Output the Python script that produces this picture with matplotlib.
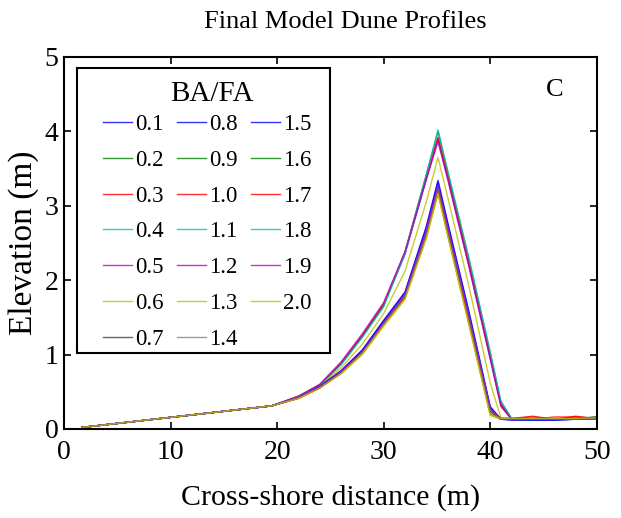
import matplotlib
matplotlib.use('Agg')
import matplotlib.pyplot as plt
from matplotlib.patches import Rectangle

plt.rcParams['font.family'] = ['Liberation Serif', 'DejaVu Serif']

# cross-shore stations (m)
xs = [1.7, 19.5, 22, 24, 26, 28, 30, 32, 34, 35.1, 36, 38, 40, 41, 42, 44, 46, 48, 50]

ratios = ['0.1', '0.2', '0.3', '0.4', '0.5', '0.6', '0.7',
          '0.8', '0.9', '1.0', '1.1', '1.2', '1.3', '1.4',
          '1.5', '1.6', '1.7', '1.8', '1.9', '2.0']

# final elevation (m) at each station, one row per BA/FA ratio
z_rows = [
    [0.02, 0.31, 0.43, 0.59, 0.88, 1.25, 1.66, 2.35, 3.35, 3.90, 3.38, 2.20, 0.95, 0.32, 0.13, 0.12, 0.12, 0.13, 0.14],
    [0.02, 0.31, 0.43, 0.58, 0.87, 1.24, 1.66, 2.38, 3.42, 4.00, 3.46, 2.28, 1.02, 0.36, 0.14, 0.13, 0.13, 0.14, 0.16],
    [0.02, 0.31, 0.44, 0.59, 0.88, 1.26, 1.68, 2.37, 3.38, 3.92, 3.42, 2.24, 0.98, 0.33, 0.14, 0.13, 0.16, 0.16, 0.14],
    [0.02, 0.31, 0.43, 0.58, 0.86, 1.23, 1.64, 2.36, 3.41, 4.02, 3.48, 2.30, 1.04, 0.38, 0.14, 0.13, 0.13, 0.13, 0.14],
    [0.02, 0.31, 0.44, 0.60, 0.90, 1.28, 1.70, 2.38, 3.36, 3.86, 3.36, 2.18, 0.94, 0.30, 0.13, 0.13, 0.13, 0.13, 0.14],
    [0.02, 0.31, 0.42, 0.57, 0.82, 1.14, 1.55, 2.12, 3.05, 3.65, 3.12, 1.92, 0.62, 0.15, 0.14, 0.14, 0.14, 0.14, 0.14],
    [0.02, 0.31, 0.42, 0.56, 0.77, 1.04, 1.43, 1.78, 2.62, 3.22, 2.68, 1.48, 0.24, 0.13, 0.13, 0.13, 0.13, 0.13, 0.14],
    [0.02, 0.31, 0.42, 0.57, 0.78, 1.06, 1.46, 1.84, 2.72, 3.34, 2.78, 1.58, 0.30, 0.13, 0.12, 0.12, 0.12, 0.13, 0.14],
    [0.02, 0.31, 0.42, 0.56, 0.76, 1.02, 1.40, 1.76, 2.58, 3.18, 2.62, 1.42, 0.20, 0.13, 0.13, 0.13, 0.13, 0.13, 0.16],
    [0.02, 0.31, 0.41, 0.55, 0.75, 1.02, 1.41, 1.79, 2.64, 3.24, 2.70, 1.50, 0.26, 0.14, 0.14, 0.16, 0.13, 0.16, 0.14],
    [0.02, 0.31, 0.42, 0.56, 0.76, 1.03, 1.42, 1.80, 2.65, 3.26, 2.72, 1.52, 0.27, 0.13, 0.13, 0.13, 0.13, 0.13, 0.14],
    [0.02, 0.31, 0.42, 0.56, 0.77, 1.04, 1.43, 1.81, 2.66, 3.27, 2.72, 1.52, 0.27, 0.13, 0.13, 0.13, 0.13, 0.13, 0.14],
    [0.02, 0.31, 0.41, 0.55, 0.74, 1.00, 1.38, 1.74, 2.56, 3.16, 2.60, 1.40, 0.18, 0.13, 0.14, 0.14, 0.14, 0.14, 0.14],
    [0.02, 0.31, 0.42, 0.56, 0.76, 1.03, 1.42, 1.79, 2.63, 3.23, 2.68, 1.48, 0.24, 0.13, 0.13, 0.13, 0.13, 0.13, 0.14],
    [0.02, 0.31, 0.42, 0.57, 0.78, 1.06, 1.45, 1.83, 2.70, 3.32, 2.77, 1.56, 0.29, 0.13, 0.12, 0.12, 0.12, 0.13, 0.14],
    [0.02, 0.31, 0.42, 0.56, 0.76, 1.03, 1.42, 1.79, 2.63, 3.24, 2.69, 1.49, 0.25, 0.13, 0.13, 0.13, 0.13, 0.14, 0.16],
    [0.02, 0.31, 0.41, 0.55, 0.75, 1.02, 1.41, 1.78, 2.62, 3.22, 2.67, 1.47, 0.23, 0.14, 0.14, 0.17, 0.13, 0.17, 0.14],
    [0.02, 0.31, 0.42, 0.56, 0.76, 1.03, 1.42, 1.80, 2.65, 3.26, 2.71, 1.51, 0.26, 0.13, 0.13, 0.13, 0.13, 0.13, 0.14],
    [0.02, 0.31, 0.42, 0.56, 0.77, 1.04, 1.43, 1.81, 2.66, 3.27, 2.72, 1.52, 0.27, 0.13, 0.13, 0.13, 0.13, 0.13, 0.14],
    [0.02, 0.31, 0.41, 0.55, 0.74, 1.01, 1.39, 1.75, 2.57, 3.17, 2.61, 1.41, 0.19, 0.14, 0.14, 0.14, 0.14, 0.14, 0.15],
]

# matlab-ish colour cycle b g r c m y k
cycle = [(0, 0, 1), (0, 0.5, 0), (1, 0, 0), (0, 0.75, 0.75),
         (0.75, 0, 0.75), (0.75, 0.75, 0), (0.25, 0.25, 0.25)]

fig = plt.figure(figsize=(6.21, 5.18), dpi=100)
ax = fig.add_axes([0.103, 0.172, 0.858, 0.718])

for i, (lab, z) in enumerate(zip(ratios, z_rows)):
    col = cycle[i % len(cycle)]
    if lab == '1.4':
        col = (0.5, 0.5, 0.5)
    ax.plot(xs, z, color=col, lw=1.0, alpha=0.8, label=lab)

ax.set_xlim(0, 50)
ax.set_ylim(0, 5)
ax.set_xticks([0, 10, 20, 30, 40, 50])
ax.set_yticks([0, 1, 2, 3, 4, 5])
ax.tick_params(direction='in', top=True, right=True, length=5, width=1.2,
               labelsize=20)
ax.tick_params(axis='x', pad=8)
ax.tick_params(axis='y', pad=4)
for s in ax.spines.values():
    s.set_linewidth(1.5)

ax.set_xlabel('Cross-shore distance (m)', fontsize=21.5, labelpad=14)
ax.set_ylabel('Elevation (m)', fontsize=24, labelpad=4)
fig.text(0.556, 0.958, 'Final Model Dune Profiles', fontsize=19,
         ha='center', va='center')
ax.text(0.921, 0.911, 'C', transform=ax.transAxes, fontsize=19,
        ha='center', va='center')

# legend box drawn separately (matlab style padding)
ax.add_patch(Rectangle((0.024, 0.204), 0.475, 0.766, transform=ax.transAxes,
                       fill=True, facecolor='white', edgecolor='black',
                       lw=1.5, zorder=5))
ax.text(0.278, 0.9, 'BA/FA', transform=ax.transAxes, fontsize=21,
        ha='center', va='center', zorder=7)
leg = ax.legend(ncol=3, loc='upper left', bbox_to_anchor=(0.073, 0.846),
                borderaxespad=0, fontsize=16.5,
                handlelength=1.27, handletextpad=0.13, columnspacing=0.59,
                labelspacing=0.64, frameon=False, borderpad=0)
leg.set_zorder(6)

fig.savefig('out.png', dpi=100, facecolor='w')
